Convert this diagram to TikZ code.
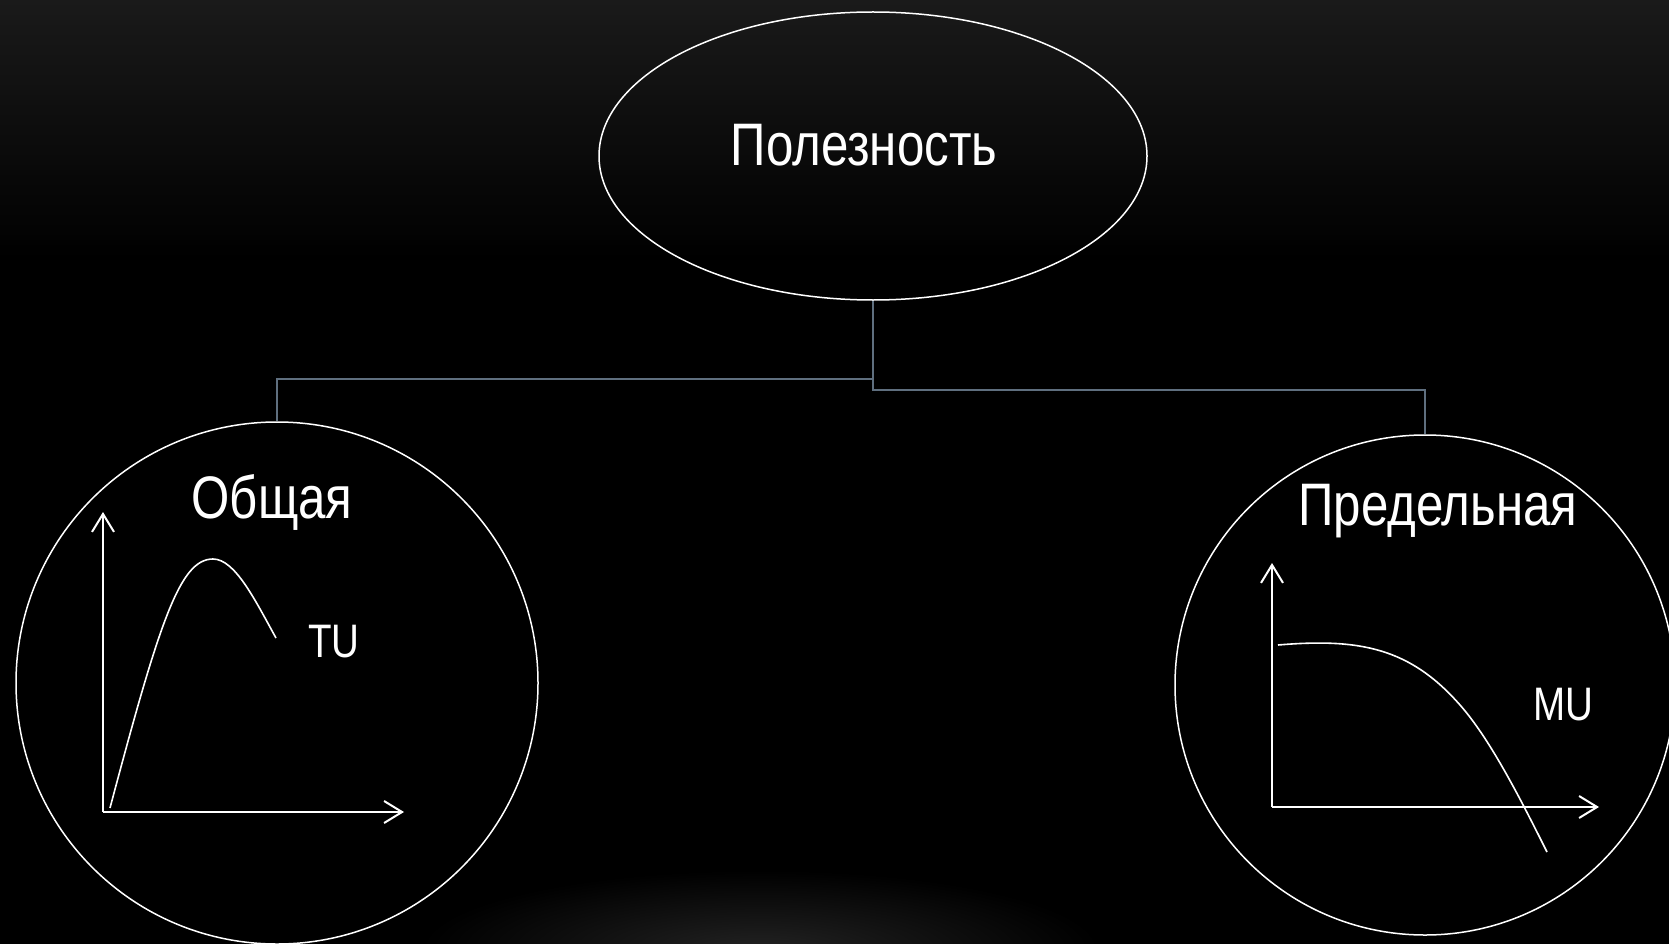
\documentclass[tikz,border=0pt]{standalone}
\usepackage{fontspec}
\setmainfont{Liberation Sans}[FakeStretch=0.82]
\usetikzlibrary{shapes.geometric,arrows.meta}

\definecolor{fondhaut}{RGB}{26,26,26}
\definecolor{lueur}{RGB}{34,34,34}
\definecolor{grislien}{RGB}{95,111,127}

\tikzset{
  bulle/.style={draw=white, line width=1.5pt, inner sep=0pt},
  lien/.style={draw=grislien, line width=1.5pt},
  axe/.style={white, line width=2pt, -{Straight Barb[length=18pt,width=22pt]}},
  courbe/.style={white, line width=1.6pt},
  titre/.style={text=white, font=\fontsize{60}{60}\selectfont, inner sep=0pt, anchor=base},
  etiq/.style={text=white, font=\fontsize{47}{47}\selectfont, inner sep=0pt, anchor=base west}
}

\begin{document}
\begin{tikzpicture}[x=1pt,y=-1pt]
\useasboundingbox (0,0) rectangle (1669,944);
\fill[black] (0,0) rectangle (1669,944);
\shade[top color=fondhaut, bottom color=black] (0,0) rectangle (1669,260);
\shade[inner color=lueur, outer color=black] (760,950) ellipse [x radius=340pt, y radius=80pt];

% les trois bulles
\node[bulle, ellipse, minimum width=548pt, minimum height=288pt] (util) at (873,156) {};
\node[bulle, circle, minimum size=522pt] (total) at (277,683) {};
\node[bulle, circle, minimum size=500pt] (marg) at (1425,685) {};

\node[titre] (tutil) at (864,166) {Полезность};
\node[titre] (ttotal) at (272,518) {Общая};
\node[titre] (tmarg) at (1438,525) {Предельная};

% liens
\draw[lien] (util.south) -- ++(0,78) -| (total.north);
\draw[lien] (util.south) -- ++(0,89) -| (marg.north);

% graphe TU
\coordinate (o1) at (103,812);
\coordinate (y1) at (103,512);
\coordinate (x1) at (404,812);
\draw[axe] (o1) -- (y1);
\draw[axe] (o1) -- (x1);
\draw[courbe] (110,808) .. controls (160,620) and (180,559) .. (213,559)
                        .. controls (235,559) and (255,600) .. (276,638);
\node[etiq] (tu) at (308,657) {TU};

% graphe MU
\coordinate (o2) at (1272,807);
\coordinate (y2) at (1272,563);
\coordinate (x2) at (1599,807);
\draw[axe] (o2) -- (y2);
\draw[axe] (o2) -- (x2);
\draw[courbe] (1278,645) .. controls (1360,638) and (1410,648) .. (1460,705)
                         .. controls (1490,739) and (1520,798) .. (1547,852);
\node[etiq] (mu) at (1533,720) {MU};

\end{tikzpicture}
\end{document}
